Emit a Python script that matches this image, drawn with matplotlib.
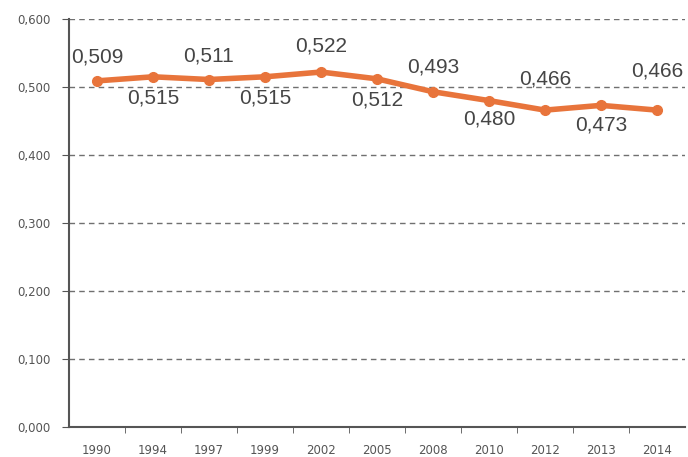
import matplotlib.pyplot as plt
import numpy as np

plt.rcParams["font.family"] = ["Liberation Sans", "DejaVu Sans"]

years = ["1990", "1994", "1997", "1999", "2002", "2005", "2008", "2010", "2012", "2013", "2014"]
values = [0.509, 0.515, 0.511, 0.515, 0.522, 0.512, 0.493, 0.480, 0.466, 0.473, 0.466]
y_ticks = [0.0, 0.1, 0.2, 0.3, 0.4, 0.5, 0.6]

# label offsets in pixels (positive = above the point, negative = below)
label_offset = [24, -21, 24, -21, 26, -21, 25, -18, 31, -20, 39]

fig = plt.figure(figsize=(6.88, 4.57), dpi=100)
ax = fig.add_axes([69 / 688, 1 - 427 / 457, 616 / 688, 408 / 457])

x = np.arange(len(years))
ax.plot(x, values, color="#E8743B", linewidth=4, marker="o", markersize=7,
        solid_capstyle="round", zorder=3)

for xi, v, off in zip(x, values, label_offset):
    ax.annotate(f"{v:.3f}".replace(".", ","), (xi, v), xytext=(0, off),
                textcoords="offset pixels", ha="center", va="center",
                fontsize=15, color="#454545", annotation_clip=False)

ax.set_xlim(-0.5, len(years) - 0.5)
ax.set_ylim(0, 0.6)
ax.set_yticks(y_ticks)
ax.set_yticklabels([f"{t:.3f}".replace(".", ",") for t in y_ticks],
                   family="DejaVu Sans")
ax.set_xticks(x)
ax.set_xticklabels(years, family="DejaVu Sans")
ax.set_xticks(np.arange(0.5, len(years) - 0.5, 1), minor=True)
ax.tick_params(axis="x", which="major", length=0, pad=12, labelsize=8.5, labelcolor="#555555")
ax.tick_params(axis="x", which="minor", length=4, direction="out", color="#555555")
ax.tick_params(axis="y", length=5, direction="out", labelsize=8.5, labelcolor="#555555",
               color="#555555", pad=8)

ax.yaxis.grid(True, linestyle=(0, (4, 3)), color="#707070", linewidth=1)
ax.set_axisbelow(True)
for side in ["top", "right"]:
    ax.spines[side].set_visible(False)
for side in ["left", "bottom"]:
    ax.spines[side].set_color("#555555")
    ax.spines[side].set_linewidth(1.5)

fig.savefig("out.png", dpi=100)
